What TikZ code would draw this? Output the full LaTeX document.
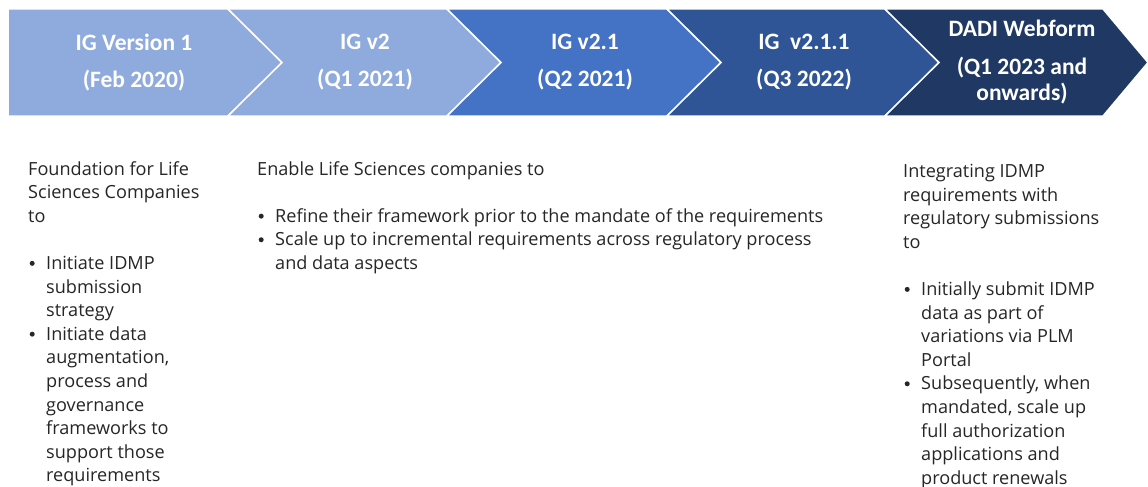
\documentclass[tikz,border=0pt]{standalone}
\usepackage{fontspec}
\setmainfont{Open Sans}
\newfontfamily\headfont{Carlito}
\usetikzlibrary{positioning}
\definecolor{paleblue}{HTML}{8FAADC}
\definecolor{midblue}{HTML}{4472C4}
\definecolor{deepblue}{HTML}{2F5597}
\definecolor{navyblue}{HTML}{203864}
\definecolor{bodygray}{HTML}{262626}
\newcommand{\bul}{\makebox[18pt][l]{\hspace{1.5pt}\raisebox{3.6pt}{\tikz\fill[bodygray] (0,0) circle (2.5pt);}}}
\newcommand{\ind}{\hspace*{18pt}}
\begin{document}
\begin{tikzpicture}[x=1pt, y=-1pt,
    band/.style = {draw=white, line width=1.5pt, line join=miter},
    stage/.style = {font=\headfont\bfseries\fontsize{23.5}{26}\selectfont, text=white, align=center, inner sep=0pt},
    desc/.style = {font=\fontsize{18.1}{23.6}\selectfont, text=bodygray, align=left, anchor=north west, inner sep=0pt}]
  \useasboundingbox[fill=white] (0,0) rectangle (1148,487);

  % chevrons
  \path[band, fill=paleblue] (8,9) -- (228,9) -- (282,62.5) -- (228,116) -- (8,116) -- cycle;
  \path[band, fill=paleblue] (228,9) -- (447,9) -- (501,62.5) -- (447,116) -- (228,116) -- (282,62.5) -- cycle;
  \path[band, fill=midblue] (447,9) -- (667,9) -- (721,62.5) -- (667,116) -- (447,116) -- (501,62.5) -- cycle;
  \path[band, fill=deepblue] (667,9) -- (885,9) -- (939,62.5) -- (885,116) -- (667,116) -- (721,62.5) -- cycle;
  \path[band, fill=navyblue] (885,9) -- (1103,9) -- (1148,62.5) -- (1103,116) -- (885,116) -- (939,62.5) -- cycle;

  \node[stage] (v1) at (134,62.5) {IG Version 1\\[11pt](Feb 2020)};
  \node[stage] (v2) at (365,62.5) {IG v2\\[11pt](Q1 2021)};
  \node[stage] (v21) at (585,62.5) {IG v2.1\\[11pt](Q2 2021)};
  \node[stage] (v211) at (804,62.5) {IG\ \ v2.1.1\\[11pt](Q3 2022)};
  \node[stage] (dadi) at (1022,62.5) {DADI Webform\\[12pt](Q1 2023 and\\onwards)};

  % descriptions
  \node[desc] (d1) at (28,161) {\rule{0pt}{13pt}Foundation for Life\\Sciences Companies\\to\\[23.6pt]
    \bul Initiate IDMP\\\ind submission\\\ind strategy\\
    \bul Initiate data\\\ind augmentation,\\\ind process and\\\ind governance\\\ind frameworks to\\\ind support those\\\ind requirements};
  \node[desc] (d2) at (257,161) {\rule{0pt}{13pt}Enable Life Sciences companies to\\[23.6pt]
    \bul Refine their framework prior to the mandate of the requirements\\
    \bul Scale up to incremental requirements across regulatory process\\\ind and data aspects};
  \node[desc] (d3) at (903,164) {\rule{0pt}{13pt}Integrating IDMP\\requirements with\\regulatory submissions\\to\\[23.6pt]
    \bul Initially submit IDMP\\\ind data as part of\\\ind variations via PLM\\\ind Portal\\
    \bul Subsequently, when\\\ind mandated, scale up\\\ind full authorization\\\ind applications and\\\ind product renewals};
\end{tikzpicture}
\end{document}
